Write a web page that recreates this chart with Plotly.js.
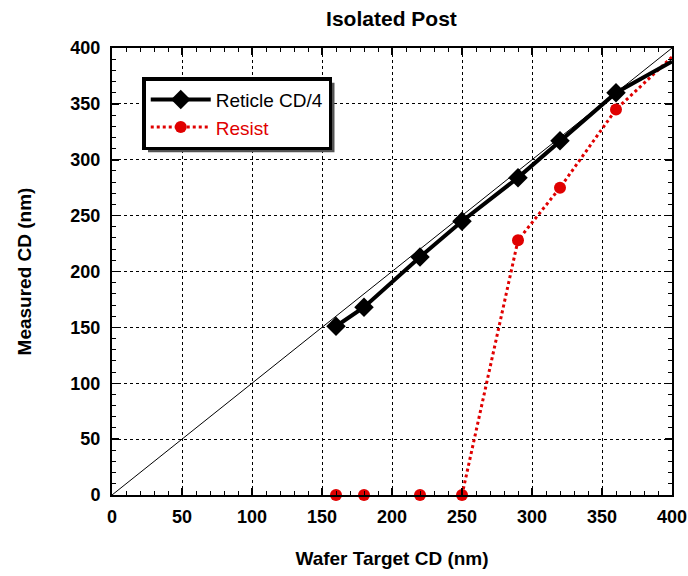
<!DOCTYPE html>
<html>
<head>
<meta charset="utf-8">
<script src="https://cdn.plot.ly/plotly-3.0.1.min.js"></script>
<style>html,body{margin:0;padding:0;background:#fff;}#chart{width:688px;height:576px;}</style>
</head>
<body>
<div id="chart"></div>
<script>
const targetCD = [160, 180, 220, 250, 290, 320, 360, 400];
const reticleCD4 = [151, 168, 213, 245, 284, 317, 360, 388];
const resistCD = [0, 0, 0, 0, 228, 275, 345, 392];
const refLineX = [0, 400];
const refLineY = [0, 400];
const markerCount = 7; // last point of each series is drawn without marker

const font = "Arial, 'Liberation Sans', sans-serif";
const red = '#e00000';

// Resist line starts at the last zero point (the zero run is hidden by the axis in the original)
const firstRise = resistCD.findIndex(v => v > 0) - 1;

const traces = [
  {
    x: refLineX, y: refLineY, mode: 'lines', showlegend: false,
    line: {color: 'black', width: 1}, hoverinfo: 'skip'
  },
  {
    x: targetCD.slice(firstRise), y: resistCD.slice(firstRise), mode: 'lines',
    showlegend: false, line: {color: red, width: 3, dash: 'dot'}
  },
  {
    x: targetCD.slice(0, markerCount), y: resistCD.slice(0, markerCount), mode: 'markers',
    marker: {symbol: 'circle', size: 12, color: red, opacity: 1},
    cliponaxis: false, showlegend: false
  },
  {
    x: [null], y: [null], mode: 'lines+markers',
    name: '<span style="color:#e00000">Resist</span>',
    line: {color: red, width: 3, dash: 'dot'},
    marker: {symbol: 'circle', size: 12, color: red, opacity: 1}
  },
  {
    x: targetCD, y: reticleCD4, mode: 'lines', showlegend: false,
    line: {color: 'black', width: 4}
  },
  {
    x: targetCD.slice(0, markerCount), y: reticleCD4.slice(0, markerCount), mode: 'markers',
    showlegend: false,
    marker: {symbol: 'diamond', size: 15, color: 'black', opacity: 1},
    cliponaxis: false
  },
  {
    x: [null], y: [null], mode: 'lines+markers', name: 'Reticle CD/4',
    line: {color: 'black', width: 4},
    marker: {symbol: 'diamond', size: 15, color: 'black', opacity: 1}
  }
];

const axisCommon = {
  range: [0, 400], dtick: 50, tick0: 0,
  showline: true, linecolor: 'black', linewidth: 2, mirror: 'ticks',
  ticks: 'inside', ticklen: 7, tickwidth: 1.5, tickcolor: 'black',
  showgrid: true, gridcolor: 'black', gridwidth: 1, griddash: 'dot',
  zeroline: false,
  minor: {dtick: 10, ticks: 'inside', ticklen: 4, tickwidth: 1, tickcolor: 'black', showgrid: false},
  tickfont: {family: font, size: 18, color: 'black', weight: 'bold'},
  fixedrange: true, automargin: false
};

const layout = {
  width: 688, height: 576,
  margin: {l: 112, r: 16, t: 48, b: 81},
  paper_bgcolor: 'white', plot_bgcolor: 'white',
  title: {text: '<b>Isolated Post</b>', x: 0.569, xanchor: 'center', y: 0.968, yanchor: 'middle',
          font: {family: font, size: 21, color: 'black'}},
  xaxis: Object.assign({}, axisCommon, {
    ticklabelstandoff: 4,
    title: {text: '<b>Wafer Target CD (nm)</b>', font: {family: font, size: 19, color: 'black'}, standoff: 26}
  }),
  yaxis: Object.assign({}, axisCommon, {
    ticklabelstandoff: 6,
    title: {text: '<b>Measured CD (nm)</b>', font: {family: font, size: 19, color: 'black'}, standoff: 34}
  }),
  legend: {
    x: 0.054, y: 0.935, xanchor: 'left', yanchor: 'top',
    bgcolor: 'white', bordercolor: 'black', borderwidth: 3.5,
    font: {family: font, size: 19, color: 'black'},
    traceorder: 'reversed', tracegroupgap: 0,
    itemwidth: 60
  },
  showlegend: true
};

Plotly.newPlot('chart', traces, layout, {displayModeBar: false, staticPlot: true}).then(gd => {
  // drop shadow behind the legend box, sized from the drawn legend
  const bg = gd.querySelector('.legend .bg');
  if (!bg) return;
  const r = bg.getBoundingClientRect();
  const c = gd.getBoundingClientRect();
  const fl = gd._fullLayout, sz = fl._size;
  const toX = px => (px - c.left - sz.l) / sz.w;
  const toY = py => (sz.t + sz.h - (py - c.top)) / sz.h;
  const off = 4;
  return Plotly.relayout(gd, {shapes: [{
    type: 'rect', xref: 'paper', yref: 'paper', layer: 'above',
    x0: toX(r.left + off), x1: toX(r.right + off),
    y0: toY(r.bottom + off), y1: toY(r.top + off),
    fillcolor: '#555555', line: {width: 0}
  }]});
});
</script>
</body>
</html>
